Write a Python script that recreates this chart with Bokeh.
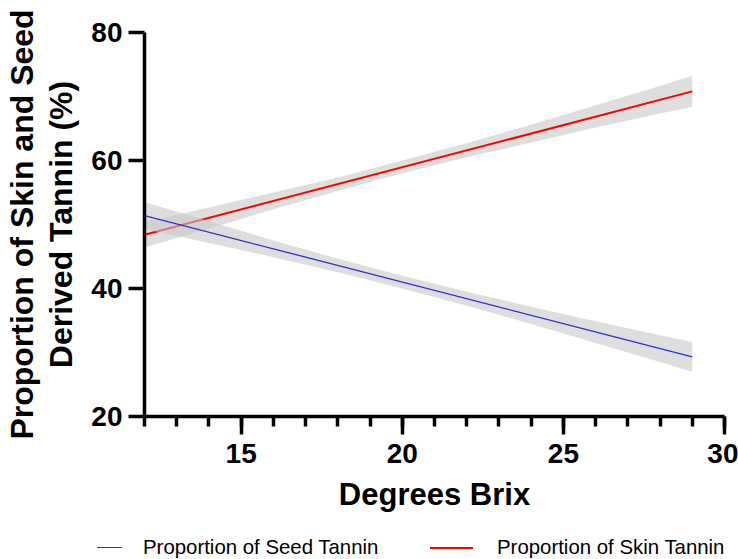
from bokeh.plotting import figure
from bokeh.models import Range1d, FixedTicker, Div
from bokeh.layouts import column
from bokeh.embed import file_html
from bokeh.resources import INLINE

# Fitted regression lines (degrees Brix vs. proportion of tannin, %)
fit_x = [12, 29]
seed_fit = [51.4, 29.3]
skin_fit = [48.4, 70.8]

# 95% confidence bands
band_x = [12, 14, 16, 18, 20, 22, 24, 26, 28, 29]
seed_lower = [49.3, 47.1, 44.9, 42.55, 40.0, 37.3, 34.45, 31.5, 28.5, 26.95]
seed_upper = [53.5, 50.5, 47.5, 44.65, 42.0, 39.5, 37.15, 34.9, 32.7, 31.65]
skin_lower = [46.4, 49.35, 52.4, 55.25, 58.0, 60.5, 62.8, 65.15, 67.35, 68.35]
skin_upper = [50.4, 52.65, 55.0, 57.35, 60.0, 62.7, 65.6, 68.65, 71.65, 73.25]

x_ticks = [15, 20, 25, 30]
x_minor = list(range(12, 31))
y_ticks = [20, 40, 60, 80]

series_labels = ["Proportion of Seed Tannin", "Proportion of Skin Tannin"]
SEED_COLOR = "#2f2fd0"
SKIN_COLOR = "#ff0000"
BAND_COLOR = "#c8c8c8"
FONT = "Liberation Sans"

p = figure(width=738, height=519, output_backend="svg", toolbar_location=None,
           x_range=Range1d(12, 30), y_range=Range1d(20, 80),
           min_border_left=144, min_border_right=14,
           min_border_top=32, min_border_bottom=103)
p.outline_line_color = None
p.xgrid.visible = False
p.ygrid.visible = False

# skin band + line first, seed band drawn over them
p.varea(x=band_x, y1=skin_lower, y2=skin_upper, fill_color=BAND_COLOR, fill_alpha=0.6)
p.line(fit_x, skin_fit, line_color=SKIN_COLOR, line_width=2)
p.varea(x=band_x, y1=seed_lower, y2=seed_upper, fill_color=BAND_COLOR, fill_alpha=0.6)
p.line(fit_x, seed_fit, line_color=SEED_COLOR, line_width=1.3)

for ax in (p.xaxis[0], p.yaxis[0]):
    ax.axis_line_width = 3.5
    ax.axis_line_color = "black"
    ax.major_tick_line_width = 3.5
    ax.major_tick_line_color = "black"
    ax.minor_tick_line_width = 3.5
    ax.minor_tick_line_color = "black"
    ax.major_tick_in = 0
    ax.minor_tick_in = 0
    ax.major_label_text_font = FONT
    ax.major_label_text_font_style = "bold"
    ax.major_label_text_font_size = "28px"
    ax.major_label_text_color = "black"
    ax.axis_label_text_font = FONT
    ax.axis_label_text_font_style = "bold"
    ax.axis_label_text_color = "black"

p.xaxis.axis_label_text_font_size = "31px"
p.yaxis.axis_label_text_font_size = "32px"
p.xaxis.ticker = FixedTicker(ticks=x_ticks, minor_ticks=x_minor)
p.yaxis.ticker = FixedTicker(ticks=y_ticks, minor_ticks=[])
p.xaxis.major_tick_out = 18
p.xaxis.minor_tick_out = 10
p.yaxis.major_tick_out = 16
p.xaxis.major_label_standoff = 9
p.yaxis.major_label_standoff = 6
p.xaxis.axis_label = "Degrees Brix"
p.yaxis.axis_label = "Proportion of Skin and Seed\nDerived Tannin (%)"
p.xaxis.axis_label_standoff = 11
p.yaxis.axis_label_standoff = 9
p.yaxis.axis_label_text_line_height = 1.1

# legend strip underneath the chart
def key(label, color, thickness, line_left, line_width, text_left):
    return (
        f'<span style="position:absolute;left:{line_left}px;top:28px;width:{line_width}px;'
        f'height:0;border-top:{thickness}px solid {color};"></span>'
        f'<span style="position:absolute;left:{text_left}px;top:16px;line-height:24px;'
        f'font-family:\'{FONT}\';font-size:20.4px;color:black;white-space:nowrap;">{label}</span>'
    )

legend_html = (
    '<div style="position:relative;width:738px;height:40px;">'
    + key(series_labels[0], SEED_COLOR, 1.5, 97, 25, 143)
    + key(series_labels[1], SKIN_COLOR, 2, 430, 43, 497)
    + '</div>'
)
legend_strip = Div(text=legend_html, width=738, height=40, margin=0)

layout = column(p, legend_strip, spacing=0)
open("out.html", "w").write(file_html(layout, INLINE))
